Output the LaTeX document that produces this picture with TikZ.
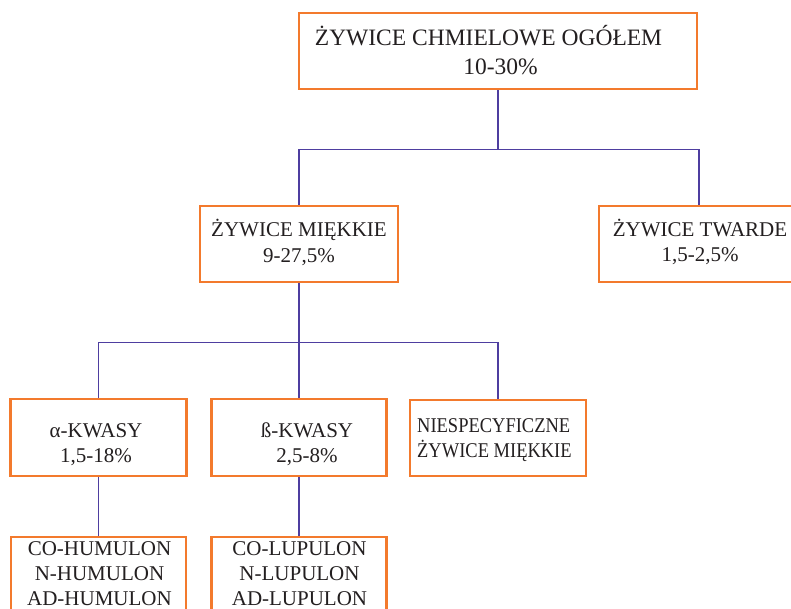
\documentclass[tikz,border=0pt]{standalone}
\usepackage{graphicx}
\usepackage{fontspec}
\setmainfont{Liberation Serif}
\definecolor{boxor}{RGB}{243,122,45}
\definecolor{connc}{RGB}{78,62,160}
\definecolor{txtc}{RGB}{35,31,32}
\begin{document}
\begin{tikzpicture}[x=1pt,y=-1pt,
  box/.style={draw=boxor, line width=2.9pt, fill=white, inner sep=0pt},
  lbl/.style={text=txtc, anchor=base, align=center, inner sep=0pt, font=\fontsize{21}{25}\selectfont},
  link/.style={draw=connc, line width=1.8pt}]
\useasboundingbox (0,0) rectangle (791,609);
% boxes
\node[box, minimum width=398pt, minimum height=76pt] (top) at (498,51) {};
\node[box, minimum width=198pt, minimum height=76pt] (soft) at (299,244) {};
\node[box, minimum width=200pt, minimum height=76pt] (hard) at (699,244) {};
\node[box, minimum width=176pt, minimum height=77pt] (alpha) at (98.5,437.5) {};
\node[box, minimum width=175pt, minimum height=77pt] (beta) at (299,437.5) {};
\node[box, minimum width=176pt, minimum height=76pt] (niesp) at (498,438) {};
\node[box, minimum width=175pt, minimum height=90pt] (hum) at (98.5,582) {};
\node[box, minimum width=175pt, minimum height=90pt] (lup) at (299,582) {};
% connectors
\path (top.south) ++(0,59) coordinate (j1);
\draw[link] (top.south) -- (j1) -| (soft.north);
\draw[link] (j1) -| (hard.north);
\path (soft.south) ++(0,59) coordinate (j2);
\draw[link] (soft.south) -- (j2) -| (alpha.north);
\draw[link] (j2) -| (niesp.north);
\draw[link] (j2) -- (beta.north);
\draw[link] (alpha.south) -- (hum.north);
\draw[link] (beta.south) -- (lup.north);
% texts (anchored at the baseline of the last line)
\node[lbl, font=\fontsize{23.5}{29}\selectfont] (topT) at (500.5,75) {ŻYWICE CHMIELOWE OGÓŁEM\hspace*{24pt}\\10-30\%};
\node[lbl] (softT) at (299,262) {ŻYWICE MIĘKKIE\\9-27,5\%};
\node[lbl] (hardT) at (700,261.5) {ŻYWICE TWARDE\\1,5-2,5\%};
\node[lbl] (alphaT) at (96,462) {α-KWASY\\1,5-18\%};
\node[lbl] (betaT) at (307,462) {ß-KWASY\\2,5-8\%};
\node[lbl, align=left, anchor=base west] (niespT) at (417,457) {\scalebox{0.88}[1]{NIESPECYFICZNE}\\\scalebox{0.88}[1]{ŻYWICE MIĘKKIE}};
\node[lbl] (humT) at (99.5,605) {CO-HUMULON\\N-HUMULON\\AD-HUMULON};
\node[lbl] (lupT) at (299.5,605) {CO-LUPULON\\N-LUPULON\\AD-LUPULON};
\end{tikzpicture}
\end{document}
